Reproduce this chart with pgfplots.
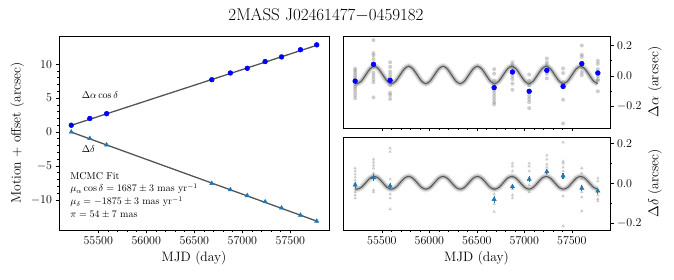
\documentclass[border=0pt]{standalone}
\usepackage{pgfplots}
\pgfplotsset{compat=1.18}
\usepackage{pgfplotstable}

\definecolor{tabblue}{RGB}{31,119,180}
\definecolor{fitgray}{RGB}{85,85,85}

\pgfplotstableread{
t a d
55219 -0.047 -0.028
55239 -0.050 -0.030
55284.25 -0.033 -0.021
55329.5 0.007 0.002
55374.75 0.047 0.025
55420 0.064 0.034
55465.25 0.047 0.025
55510.5 0.007 0.002
55555.75 -0.033 -0.021
55601 -0.050 -0.030
55646.25 -0.033 -0.021
55691.5 0.007 0.002
55736.75 0.047 0.025
55782 0.064 0.034
55827.25 0.047 0.025
55872.5 0.007 0.002
55917.75 -0.033 -0.021
55963 -0.050 -0.030
56008.25 -0.033 -0.021
56053.5 0.007 0.002
56098.75 0.047 0.025
56144 0.064 0.034
56189.25 0.047 0.025
56234.5 0.007 0.002
56279.75 -0.033 -0.021
56325 -0.050 -0.030
56370.25 -0.033 -0.021
56415.5 0.007 0.002
56460.75 0.047 0.025
56506 0.064 0.034
56551.25 0.047 0.025
56596.5 0.007 0.002
56641.75 -0.033 -0.021
56687 -0.050 -0.030
56732.25 -0.033 -0.021
56777.5 0.007 0.002
56822.75 0.047 0.025
56868 0.064 0.034
56913.25 0.047 0.025
56958.5 0.007 0.002
57003.75 -0.033 -0.021
57049 -0.050 -0.030
57094.25 -0.033 -0.021
57139.5 0.007 0.002
57184.75 0.047 0.025
57230 0.064 0.034
57275.25 0.047 0.025
57320.5 0.007 0.002
57365.75 -0.033 -0.021
57411 -0.050 -0.030
57456.25 -0.033 -0.021
57501.5 0.007 0.002
57546.75 0.047 0.025
57592 0.064 0.034
57637.25 0.047 0.025
57682.5 0.007 0.002
57727.75 -0.033 -0.021
57773 -0.050 -0.030
}\curve

\pgfplotstableread{
t a ea d ed A D
55219 -0.033 0.010 -0.009 0.014 1.000 0.000
55412 0.077 0.010 0.028 0.016 2.001 -0.954
55587 -0.028 0.010 -0.014 0.014 2.705 -1.894
56682 -0.076 0.010 -0.081 0.016 7.715 -7.582
56875 0.026 0.010 -0.017 0.014 8.708 -8.508
57051 -0.100 0.010 0.020 0.014 9.395 -9.375
57237 0.037 0.010 0.058 0.014 10.391 -10.291
57408 -0.068 0.010 0.037 0.016 11.076 -11.190
57605 0.081 0.010 -0.025 0.014 12.135 -12.263
57774 0.020 0.010 -0.039 0.014 12.855 -13.145
}\epochs

\pgfplotstableread{
t v
55219 0.048
55219 0.035
55219 0.02
55219 0.005
55219 -0.01
55219 -0.025
55219 -0.04
55219 -0.055
55219 -0.07
55219 -0.085
55219 -0.105
55219 -0.125
55219 -0.145
55412 0.235
55412 0.15
55412 0.135
55412 0.11
55412 0.06
55412 0.02
55412 0.0
55412 -0.02
55412 -0.04
55412 -0.14
55587 0.09
55587 0.06
55587 0.03
55587 0.01
55587 -0.01
55587 -0.04
55587 -0.06
55587 -0.11
55587 -0.125
55587 -0.15
56682 0.045
56682 0.015
56682 -0.03
56682 -0.06
56682 -0.09
56682 -0.11
56682 -0.13
56682 -0.15
56682 -0.17
56682 -0.185
56875 0.09
56875 0.07
56875 0.05
56875 0.03
56875 0.0
56875 -0.02
56875 -0.05
56875 -0.09
57051 0.01
57051 -0.03
57051 -0.06
57051 -0.13
57051 -0.15
57051 -0.17
57051 -0.21
57237 0.115
57237 0.09
57237 0.07
57237 0.04
57237 0.015
57237 -0.015
57408 0.05
57408 0.02
57408 -0.04
57408 -0.155
57408 -0.31
57605 0.2
57605 0.14
57605 0.125
57605 0.08
57605 0.055
57605 0.025
57605 0.005
57774 0.1
57774 0.08
57774 0.045
57774 0.0
57774 -0.02
57774 -0.03
57774 -0.1
}\agray

\pgfplotstableread{
t v
55219 0.075
55219 0.06
55219 0.045
55219 0.03
55219 0.015
55219 0.0
55219 -0.015
55219 -0.03
55219 -0.045
55219 -0.06
55219 -0.075
55412 0.12
55412 0.105
55412 0.09
55412 0.075
55412 0.05
55412 0.03
55412 -0.035
55412 -0.045
55587 0.176
55587 0.158
55587 0.02
55587 -0.01
55587 -0.03
55587 -0.055
55587 -0.075
55587 -0.13
56682 -0.03
56682 -0.055
56682 -0.085
56682 -0.105
56682 -0.143
56875 0.1
56875 0.085
56875 0.06
56875 0.03
56875 -0.03
56875 -0.06
56875 -0.075
57051 0.1
57051 0.085
57051 0.06
57051 0.02
57051 -0.01
57051 -0.045
57237 0.14
57237 0.12
57237 0.095
57237 0.08
57237 0.06
57237 0.045
57408 0.205
57408 0.11
57408 0.1
57408 0.08
57408 0.06
57408 0.04
57408 -0.065
57408 -0.215
57605 0.075
57605 0.05
57605 0.02
57605 -0.015
57605 -0.045
57605 -0.07
57605 -0.14
57774 0.025
57774 0.01
57774 -0.04
57774 -0.06
57774 -0.08
57774 -0.09
}\dgray

\pgfplotsset{
  base/.style={
    scale only axis,
    xmin=55091, xmax=57902,
    xtick={55500,56000,56500,57000,57500},
    minor x tick num=4,
    scaled x ticks=false,
    xticklabel style={/pgf/number format/1000 sep={}},
    tick align=outside,
    major tick length=3.5pt,
    minor tick length=2pt,
    every tick/.style={black, line width=0.6pt},
    axis line style={line width=0.8pt},
    tick label style={font=\fontsize{11.5}{13}\selectfont},
    xlabel style={font=\fontsize{13.6}{16}\selectfont},
    ylabel style={font=\fontsize{13.6}{16}\selectfont},
    xtick pos=bottom,
  },
  graymark/.style={only marks, mark=#1, mark size=2pt, color=black!60,
    mark options={solid, fill=black!60, draw=black!60, fill opacity=0.33, draw opacity=0}},
  bluemark/.style 2 args={only marks, mark=#1, mark size=2.4pt, color=#2,
    mark options={solid, fill=#2, draw=#2, line width=0.5pt, fill opacity=1, draw opacity=1}},
  errbars/.style={no marks, draw=none,
    error bars/.cd, y dir=both, y explicit, error mark=none,
    error bar style={draw=#1, line width=1.2pt, solid}},
}

\begin{document}
\begin{tikzpicture}
\path[use as bounding box] (0,0) rectangle (674pt,280pt);

\node[font=\fontsize{17}{20}\selectfont] at (326pt,265pt) {2MASS J02461477$-$0459182};

% Left panel
\begin{axis}[base,
  at={(59pt,50pt)}, anchor=south west,
  width=270pt, height=194pt,
  ymin=-14.45, ymax=14.16,
  ytick={-10,-5,0,5,10},
  minor y tick num=4,
  ytick pos=left,
  xlabel={MJD (day)},
  ylabel={Motion + offset (arcsec)},
]
\addplot[fitgray, line width=1.3pt, no marks] coordinates {(55219,0.986) (57774,12.785)};
\addplot[fitgray, line width=1.3pt, no marks] coordinates {(55219,-0.019) (57774,-13.136)};
\addplot[bluemark={*}{blue}] table[x=t, y=A] {\epochs};
\addplot[bluemark={triangle*}{tabblue}] table[x=t, y=D] {\epochs};
\node[anchor=west, font=\fontsize{10}{12}\selectfont] at (rel axis cs:0.0715,0.696) {$\Delta\alpha\cos\delta$};
\node[anchor=west, font=\fontsize{10}{12}\selectfont] at (rel axis cs:0.0715,0.4175) {$\Delta\delta$};
\node[anchor=north west, inner sep=0pt, align=left, font=\fontsize{10}{12.7}\selectfont] at (rel axis cs:0.041,0.299)
  {MCMC Fit\\
   $\mu_\alpha\cos\delta = 1687\pm3$ mas yr$^{-1}$\\
   $\mu_\delta = -1875\pm3$ mas yr$^{-1}$\\
   $\pi = 54\pm7$ mas};
\end{axis}

% Top right panel
\begin{axis}[base,
  at={(343pt,152pt)}, anchor=south west,
  width=267pt, height=92pt,
  ymin=-0.34, ymax=0.262,
  ytick={-0.2,0,0.2},
  minor y tick num=1,
  scaled y ticks=false,
  yticklabel style={/pgf/number format/.cd, fixed, fixed zerofill, precision=1},
  xticklabels={},
  ytick pos=right, yticklabel pos=right,
  ylabel near ticks,
  ylabel={$\Delta\alpha$ (arcsec)},
  ylabel style={font=\fontsize{13.6}{16}\selectfont},
]
\addplot[no marks, smooth, line width=6.5pt, black, opacity=0.08] table[x=t, y=a] {\curve};
\addplot[no marks, smooth, line width=4pt, black, opacity=0.18] table[x=t, y=a] {\curve};
\addplot[no marks, smooth, line width=1.1pt, black!65] table[x=t, y=a] {\curve};
\addplot[graymark=*] table[x=t, y=v] {\agray};
\addplot[errbars=blue] table[x=t, y=a, y error=ea] {\epochs};
\addplot[bluemark={*}{blue}] table[x=t, y=a] {\epochs};
\end{axis}

% Bottom right panel
\begin{axis}[base,
  at={(343pt,50pt)}, anchor=south west,
  width=267pt, height=93pt,
  ymin=-0.235, ymax=0.232,
  ytick={-0.2,0,0.2},
  minor y tick num=1,
  scaled y ticks=false,
  yticklabel style={/pgf/number format/.cd, fixed, fixed zerofill, precision=1},
  ytick pos=right, yticklabel pos=right,
  ylabel near ticks,
  xlabel={MJD (day)},
  ylabel={$\Delta\delta$ (arcsec)},
  ylabel style={font=\fontsize{13.6}{16}\selectfont},
]
\addplot[no marks, smooth, line width=6.5pt, black, opacity=0.08] table[x=t, y=d] {\curve};
\addplot[no marks, smooth, line width=4pt, black, opacity=0.18] table[x=t, y=d] {\curve};
\addplot[no marks, smooth, line width=1.1pt, black!65] table[x=t, y=d] {\curve};
\addplot[graymark=triangle*] table[x=t, y=v] {\dgray};
\addplot[errbars=tabblue] table[x=t, y=d, y error=ed] {\epochs};
\addplot[bluemark={triangle*}{tabblue}] table[x=t, y=d] {\epochs};
\end{axis}
\end{tikzpicture}
\end{document}
